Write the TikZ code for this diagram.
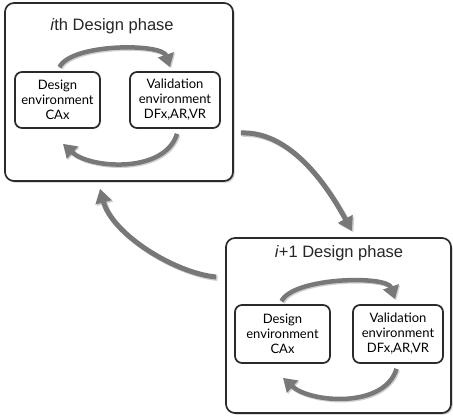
\documentclass[tikz,border=0pt]{standalone}
\usepackage{fontspec}
\setmainfont{Lato}
\newfontfamily\titlefont{Liberation Sans}
\usetikzlibrary{arrows.meta,shadows}
\definecolor{arrowgray}{HTML}{787878}
\definecolor{framegray}{HTML}{2A2A2A}
\begin{document}
\begin{tikzpicture}[x=1pt,y=1pt,
  phasebox/.style={draw=framegray,line width=1.7pt,rounded corners=9pt,fill=white,
    drop shadow={shadow xshift=1.6pt,shadow yshift=-1.6pt,opacity=0.45}},
  envbox/.style={draw=framegray,line width=1.7pt,rounded corners=7pt,fill=white,
    align=center,font=\fontsize{13}{15}\selectfont,inner sep=0pt},
  phasetitle/.style={font=\titlefont\fontsize{16.5}{18}\selectfont,text=black!85},
  cyclearrow/.style={draw=arrowgray,line width=4.5pt,
    -{Triangle[width=16pt,length=13pt]},
    preaction={draw=black!18,line width=4.5pt,transform canvas={shift={(1.2pt,-1.2pt)}}}},
  flowarrow/.style={draw=arrowgray,line width=5pt,
    -{Triangle[width=16pt,length=14pt]},
    preaction={draw=black!18,line width=5pt,transform canvas={shift={(1.5pt,-1.5pt)}}}}
]
\useasboundingbox (0,0) rectangle (453,418);

% phase i
\node[phasebox,minimum width=228pt,minimum height=178pt] (b1) at (119,326) {};
\node[phasetitle] (t1) at (112,392) {\textit{i}th Design phase};
\node[envbox,minimum width=85pt,minimum height=56pt] (d1) at (57.5,318)
  {Design\\environment\\CAx};
\node[envbox,minimum width=90pt,minimum height=56pt] (v1) at (175,318)
  {Validation\\environment\\DFx,AR,VR};

% phase i+1
\node[phasebox,minimum width=225pt,minimum height=175pt] (b2) at (338.5,92.5) {};
\node[phasetitle] (t2) at (339,165) {\textit{i}+1 Design phase};
\node[envbox,minimum width=95pt,minimum height=58pt] (d2) at (282.5,84)
  {Design\\environment\\CAx};
\node[envbox,minimum width=90pt,minimum height=58pt] (v2) at (398,84)
  {Validation\\environment\\DFx,AR,VR};

% cycles inside each phase
\draw[cyclearrow] ([shift={(2,4)}]d1.north) .. controls +(12,24) and +(-8,24) ..
  ([shift={(-5,4)}]v1.north);
\draw[cyclearrow] ([shift={(2,-5)}]v1.south) .. controls +(-12,-40) and +(27,-25) ..
  ([shift={(5.5,-15)}]d1.south);
\draw[cyclearrow] ([shift={(-1,3)}]d2.north) .. controls +(12,24) and +(-8,24) ..
  ([shift={(-3,5)}]v2.north);
\draw[cyclearrow] ([shift={(-1.5,-5)}]v2.south) .. controls +(-12,-40) and +(27,-25) ..
  ([shift={(0.5,-14)}]d2.south);

% transitions between the phases
\draw[flowarrow] ([shift={(7,-41)}]b1.east) .. controls +(45,2) and +(-30,55) ..
  ([shift={(13.5,6)}]b2.north);
\draw[flowarrow] ([shift={(-9,48.5)}]b2.west) .. controls +(-42,4) and +(12,-45) ..
  ([shift={(-19,-7)}]b1.south);
\end{tikzpicture}
\end{document}
